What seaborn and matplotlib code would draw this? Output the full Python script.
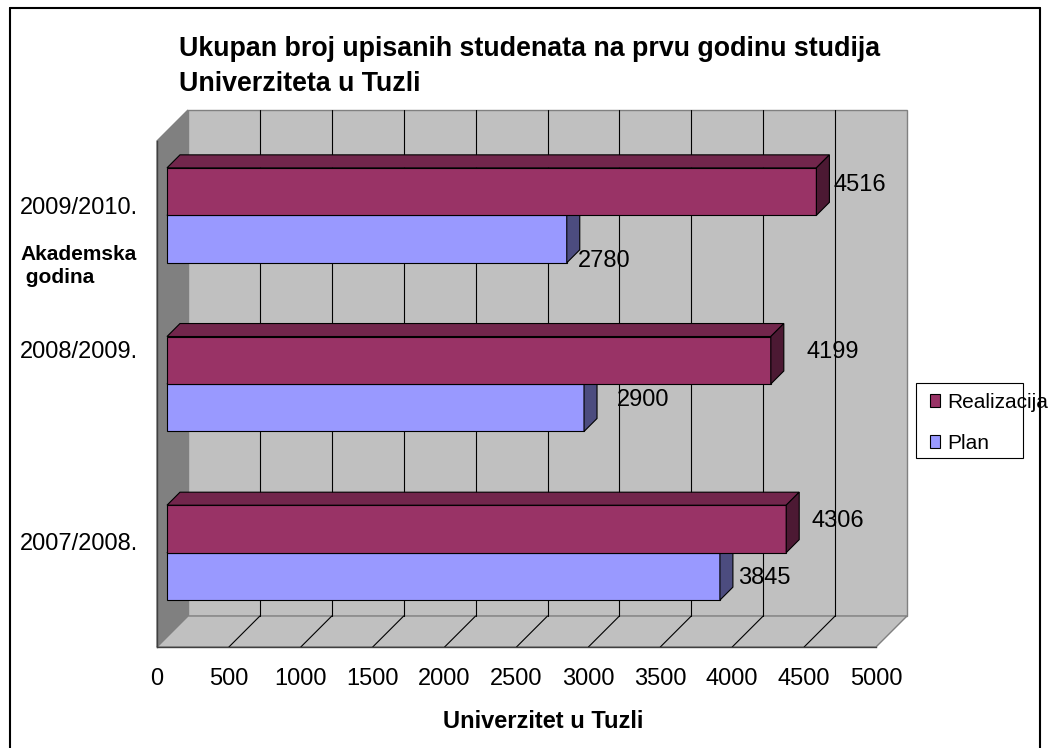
import matplotlib.pyplot as plt
import matplotlib.patches as mpatches
from matplotlib.lines import Line2D
from matplotlib.transforms import ScaledTranslation
import pandas as pd
import seaborn as sns

# podaci sa grafikona
years = ['2009/2010.', '2008/2009.', '2007/2008.']
realizacija = [4516, 4199, 4306]
plan = [2780, 2900, 3845]
series = ['Realizacija', 'Plan']
x_ticks = [0, 500, 1000, 1500, 2000, 2500, 3000, 3500, 4000, 4500, 5000]

title = 'Ukupan broj upisanih studenata na prvu godinu studija\nUniverziteta u Tuzli'
colors = {'Realizacija': '#993366', 'Plan': '#9999FF'}

# pomjeranje natpisa u pikselima (desno, dolje) - kao u Excelu
label_nudge = {('Realizacija', 0): (27, -17), ('Plan', 0): (21, 12),
               ('Realizacija', 1): (46, -18), ('Plan', 1): (43, -18),
               ('Realizacija', 2): (35, -18), ('Plan', 2): (28, -8)}
ytick_nudge = [-20, -44, -21]

W, H, DPI = 1052, 748, 100
LEFT, RIGHT, TOP, BOTTOM = 157, 876, 141, 647   # prednja ravan 3D kutije
WALL = 31      # dubina zidova (px)
BAR_OFF = 10   # udaljenost stubaca od prednje ravni
BAR_D = 13     # dubina stubca

sns.set_style('white')
plt.rcParams['font.family'] = ['Liberation Sans', 'DejaVu Sans']
plt.rcParams['text.color'] = 'black'
plt.rcParams['axes.labelcolor'] = 'black'
plt.rcParams['xtick.color'] = 'black'
plt.rcParams['ytick.color'] = 'black'

df = pd.DataFrame({
    'godina': years * 2,
    'broj': realizacija + plan,
    'serija': ['Realizacija'] * 3 + ['Plan'] * 3,
})

fig = plt.figure(figsize=(W / DPI, H / DPI), dpi=DPI)
ax = fig.add_axes([LEFT / W, 1 - BOTTOM / H, (RIGHT - LEFT) / W, (BOTTOM - TOP) / H])
ax.patch.set_visible(False)

sns.barplot(data=df, y='godina', x='broj', hue='serija', order=years, hue_order=series,
            palette=colors, orient='h', width=0.563, saturation=1, errorbar=None,
            edgecolor='black', linewidth=0.8, ax=ax)
handles, labels = ax.get_legend_handles_labels()
ax.get_legend().remove()

ax.set_xlim(0, 5000)
ax.set_ylim(2.5, -0.5)

# px -> podaci
sx = (RIGHT - LEFT) / 5000.0
sy = (BOTTOM - TOP) / 3.0


def depth(px):
    return px / sx, -px / sy


def shade(hexcol, f):
    r, g, b = [int(hexcol[i:i + 2], 16) for i in (1, 3, 5)]
    return '#%02x%02x%02x' % (int(r * f), int(g * f), int(b * f))


# zidovi i pod
dx, dy = depth(WALL)
ax.add_patch(mpatches.Rectangle((dx, -0.5 + dy), 5000, 3, fc='#C0C0C0', ec='#808080',
                                lw=1, zorder=0.1, clip_on=False))
ax.add_patch(mpatches.Polygon([(0, -0.5), (dx, -0.5 + dy), (dx, 2.5 + dy), (0, 2.5)],
                              fc='#808080', ec='#808080', lw=1, zorder=0.2, clip_on=False))
ax.add_patch(mpatches.Polygon([(0, 2.5), (dx, 2.5 + dy), (5000 + dx, 2.5 + dy), (5000, 2.5)],
                              fc='#C0C0C0', ec='#808080', lw=1, zorder=0.2, clip_on=False))
for v in x_ticks[1:-1]:
    ax.plot([v + dx, v + dx], [-0.5 + dy, 2.5 + dy], color='black', lw=0.8, zorder=0.3, clip_on=False)
    ax.plot([v, v + dx], [2.5, 2.5 + dy], color='black', lw=0.8, zorder=0.3, clip_on=False)

# 3D stubci
ox, oy = depth(BAR_OFF)
bx, by = depth(BAR_D)
for name, cont in zip(series, ax.containers):
    z = 3 if name == 'Realizacija' else 2
    base = colors[name]
    for patch in cont:
        patch.set_x(patch.get_x() + ox)
        patch.set_y(patch.get_y() + oy)
        patch.set_zorder(z)
        x0 = patch.get_x()
        x1 = x0 + patch.get_width()
        yt = patch.get_y()
        yb = yt + patch.get_height()
        ax.add_patch(mpatches.Polygon([(x0, yt), (x0 + bx, yt + by), (x1 + bx, yt + by), (x1, yt)],
                                      fc=shade(base, 0.75), ec='black', lw=0.8, zorder=z, clip_on=False))
        ax.add_patch(mpatches.Polygon([(x1, yt), (x1 + bx, yt + by), (x1 + bx, yb + by), (x1, yb)],
                                      fc=shade(base, 0.5), ec='black', lw=0.8, zorder=z, clip_on=False))

# natpisi vrijednosti
offset = 0.563 / 4
for name, vals, sign in [('Realizacija', realizacija, -1), ('Plan', plan, 1)]:
    for i, v in enumerate(vals):
        nx, ny = label_nudge[(name, i)]
        tr = ax.transData + ScaledTranslation(nx / DPI, -ny / DPI, fig.dpi_scale_trans)
        ax.text(v, i + sign * offset, str(v), transform=tr, ha='left', va='center',
                fontsize=17, zorder=0.25, clip_on=False)

# ose
for s in ['top', 'right']:
    ax.spines[s].set_visible(False)
for s in ['left', 'bottom']:
    ax.spines[s].set_color('#404040')
    ax.spines[s].set_linewidth(1)
    ax.spines[s].set_zorder(0.4)

ax.set_xticks(x_ticks)
ax.set_xticklabels([str(t) for t in x_ticks])
ax.tick_params(axis='x', length=5.8, width=1, color='#404040', labelsize=17, pad=9)
ax.set_yticks([-0.5, 0.5, 1.5, 2.5])
ax.set_yticklabels([])
ax.tick_params(axis='y', which='major', length=5, width=1, color='#404040')
ax.set_yticks([0, 1, 2], minor=True)
ax.set_yticklabels(years, minor=True)
ax.tick_params(axis='y', which='minor', length=0, labelsize=17, pad=13.7)
for lab, ny in zip(ax.yaxis.get_minorticklabels(), ytick_nudge):
    lab.set_transform(lab.get_transform() + ScaledTranslation(0, -ny / DPI, fig.dpi_scale_trans))

ax.set_xlabel('Univerzitet u Tuzli', fontsize=17, fontweight='bold')
ax.xaxis.label.set_va('center')
ax.xaxis.set_label_coords((543 - LEFT) / (RIGHT - LEFT), (BOTTOM - 722) / (BOTTOM - TOP))
ax.set_ylabel('Akademska\n godina', fontsize=15, fontweight='bold', rotation=0,
              ha='left', va='center', multialignment='left', linespacing=1.3)
ax.yaxis.set_label_coords((20 - LEFT) / (RIGHT - LEFT), (BOTTOM - 266) / (BOTTOM - TOP))

fig.text(179 / W, 1 - 36 / H, title, fontsize=19.3, fontweight='bold', ha='left', va='top',
         linespacing=1.45)

# legenda
fig.legend(handles, labels, loc='upper left', bbox_to_anchor=(930 / W, 1 - 393 / H),
           frameon=False, fontsize=15, handlelength=0.5, handleheight=0.6,
           handletextpad=0.35, labelspacing=1.05, borderpad=0, borderaxespad=0)
fig.add_artist(mpatches.Rectangle((916 / W, 1 - 458 / H), 107 / W, 75 / H, fill=False,
                                  ec='black', lw=0.8, transform=fig.transFigure))

# okvir slike
for xs, ys in [([10, 10], [8, 748]), ([10, 1040], [8, 8]), ([1040, 1040], [8, 748])]:
    fig.add_artist(Line2D([x / W for x in xs], [1 - y / H for y in ys], color='black', lw=1.5,
                          transform=fig.transFigure))

fig.savefig('out.png', dpi=DPI)
